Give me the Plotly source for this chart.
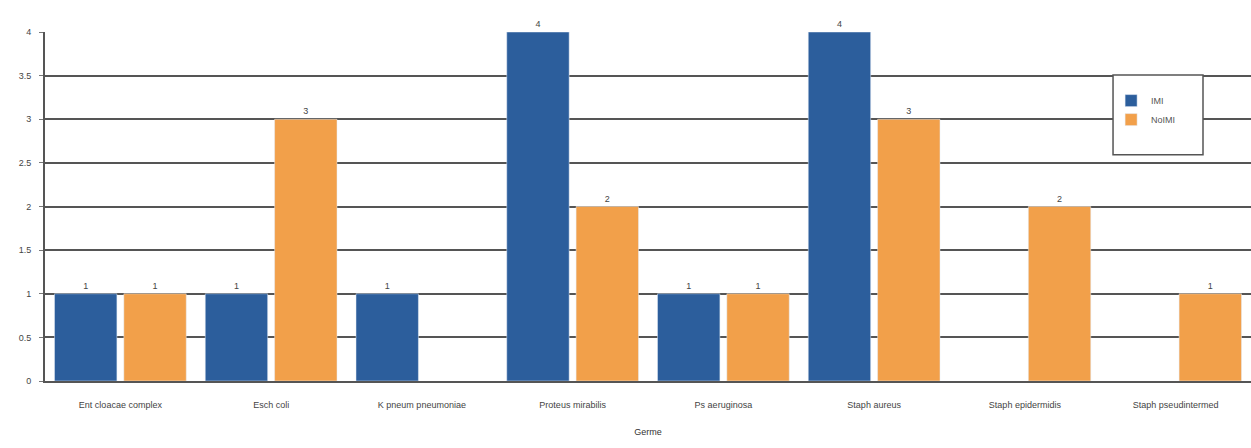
import plotly.graph_objects as go

categories = ["Ent cloacae complex", "Esch coli", "K pneum pneumoniae", "Proteus mirabilis",
              "Ps aeruginosa", "Staph aureus", "Staph epidermidis", "Staph pseudintermed"]
imi = [1, 1, 1, 4, 1, 4, None, None]
no_imi = [1, 3, None, 2, 1, 3, 2, 1]
y_ticks = [0, 0.5, 1, 1.5, 2, 2.5, 3, 3.5, 4]
y_tick_labels = ["0", "0.5", "1", "1.5", "2", "2.5", "3", "3.5", "4"]

BLUE = "#2c5e9c"
ORANGE = "#f2a04a"
FONT = "Liberation Sans, Arial, sans-serif"


def labels(vals):
    return ["" if v is None else str(v) for v in vals]


fig = go.Figure()
fig.add_trace(go.Bar(name="IMI", x=categories, y=imi, marker_color=BLUE,
                     text=labels(imi), textposition="outside", cliponaxis=False,
                     textfont=dict(size=9, color="#444")))
fig.add_trace(go.Bar(name="NoIMI", x=categories, y=no_imi, marker_color=ORANGE,
                     text=labels(no_imi), textposition="outside", cliponaxis=False,
                     textfont=dict(size=9, color="#444")))

# legend frame, taller than the legend entries themselves
fig.add_shape(type="rect", xref="paper", yref="paper",
              x0=0.8856, x1=0.9602, y0=0.648, y1=0.877,
              line=dict(color="#555", width=1.5), fillcolor="white", layer="above")

fig.update_layout(
    width=1251, height=448,
    margin=dict(l=45, r=0, t=32, b=67),
    paper_bgcolor="white", plot_bgcolor="white",
    barmode="group", bargap=0.08, bargroupgap=0.1,
    font=dict(family=FONT, size=9, color="#444"),
    showlegend=True,
    legend=dict(x=0.884, y=0.845, xanchor="left", yanchor="top",
                bgcolor="rgba(0,0,0,0)", borderwidth=0, tracegroupgap=0,
                font=dict(size=9, color="#555"), itemwidth=30),
    xaxis=dict(showgrid=False, showline=True, linecolor="#555", linewidth=2,
               ticks="", ticklabelstandoff=14, tickfont=dict(size=9, color="#444"),
               title=dict(text="Germe", font=dict(size=9, color="#333"), standoff=20)),
    yaxis=dict(range=[0, 4], tickvals=y_ticks, ticktext=y_tick_labels,
               showgrid=True, gridcolor="#555", gridwidth=2,
               showline=True, linecolor="#555", linewidth=2,
               ticks="outside", ticklen=4, tickcolor="#777", ticklabelstandoff=6,
               tickfont=dict(size=9, color="#444"), zeroline=False),
)

fig.write_html("out.html")
